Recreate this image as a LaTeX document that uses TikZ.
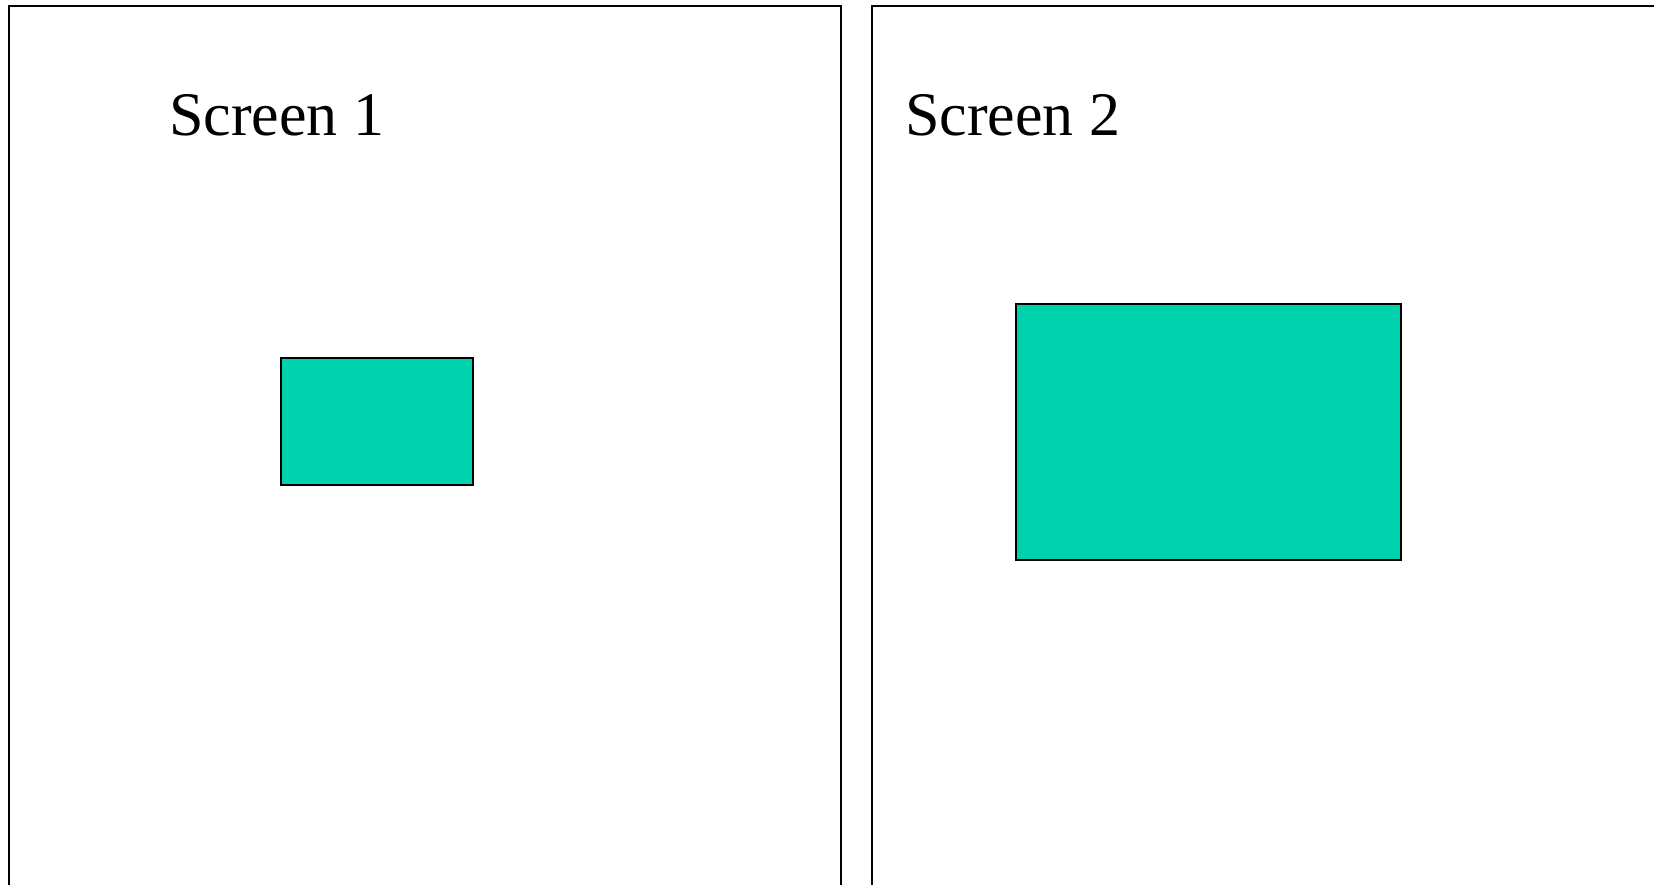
\documentclass[tikz,border=0pt]{standalone}
\usepackage{fontspec}
\setmainfont{Liberation Serif}
\definecolor{teal1}{HTML}{00D2AE}
\begin{document}
\begin{tikzpicture}[x=1pt,y=-1pt,
  frame/.style={draw=black,line width=2pt},
  box/.style={draw=black,line width=2pt,fill=teal1,inner sep=0pt,outer sep=0pt},
  label/.style={font=\fontsize{62}{68}\selectfont,anchor=base west,inner sep=0pt}]
\useasboundingbox (0,0) rectangle (1654,884);
\clip (0,0) rectangle (1654,884);
\fill[white] (0,0) rectangle (1654,884);
\draw[frame] (9,900) -- (9,6) -- (841,6) -- (841,900);
\draw[frame] (872,900) -- (872,6) -- (1700,6);
\node[label] (t1) at (169,135) {Screen 1};
\node[label] (t2) at (905,135) {Screen 2};
\node[box,minimum width=192pt,minimum height=127.5pt] (b1) at (376.6,421.4) {};
\node[box,minimum width=385pt,minimum height=256.5pt] (b2) at (1208.3,432) {};
\end{tikzpicture}
\end{document}
